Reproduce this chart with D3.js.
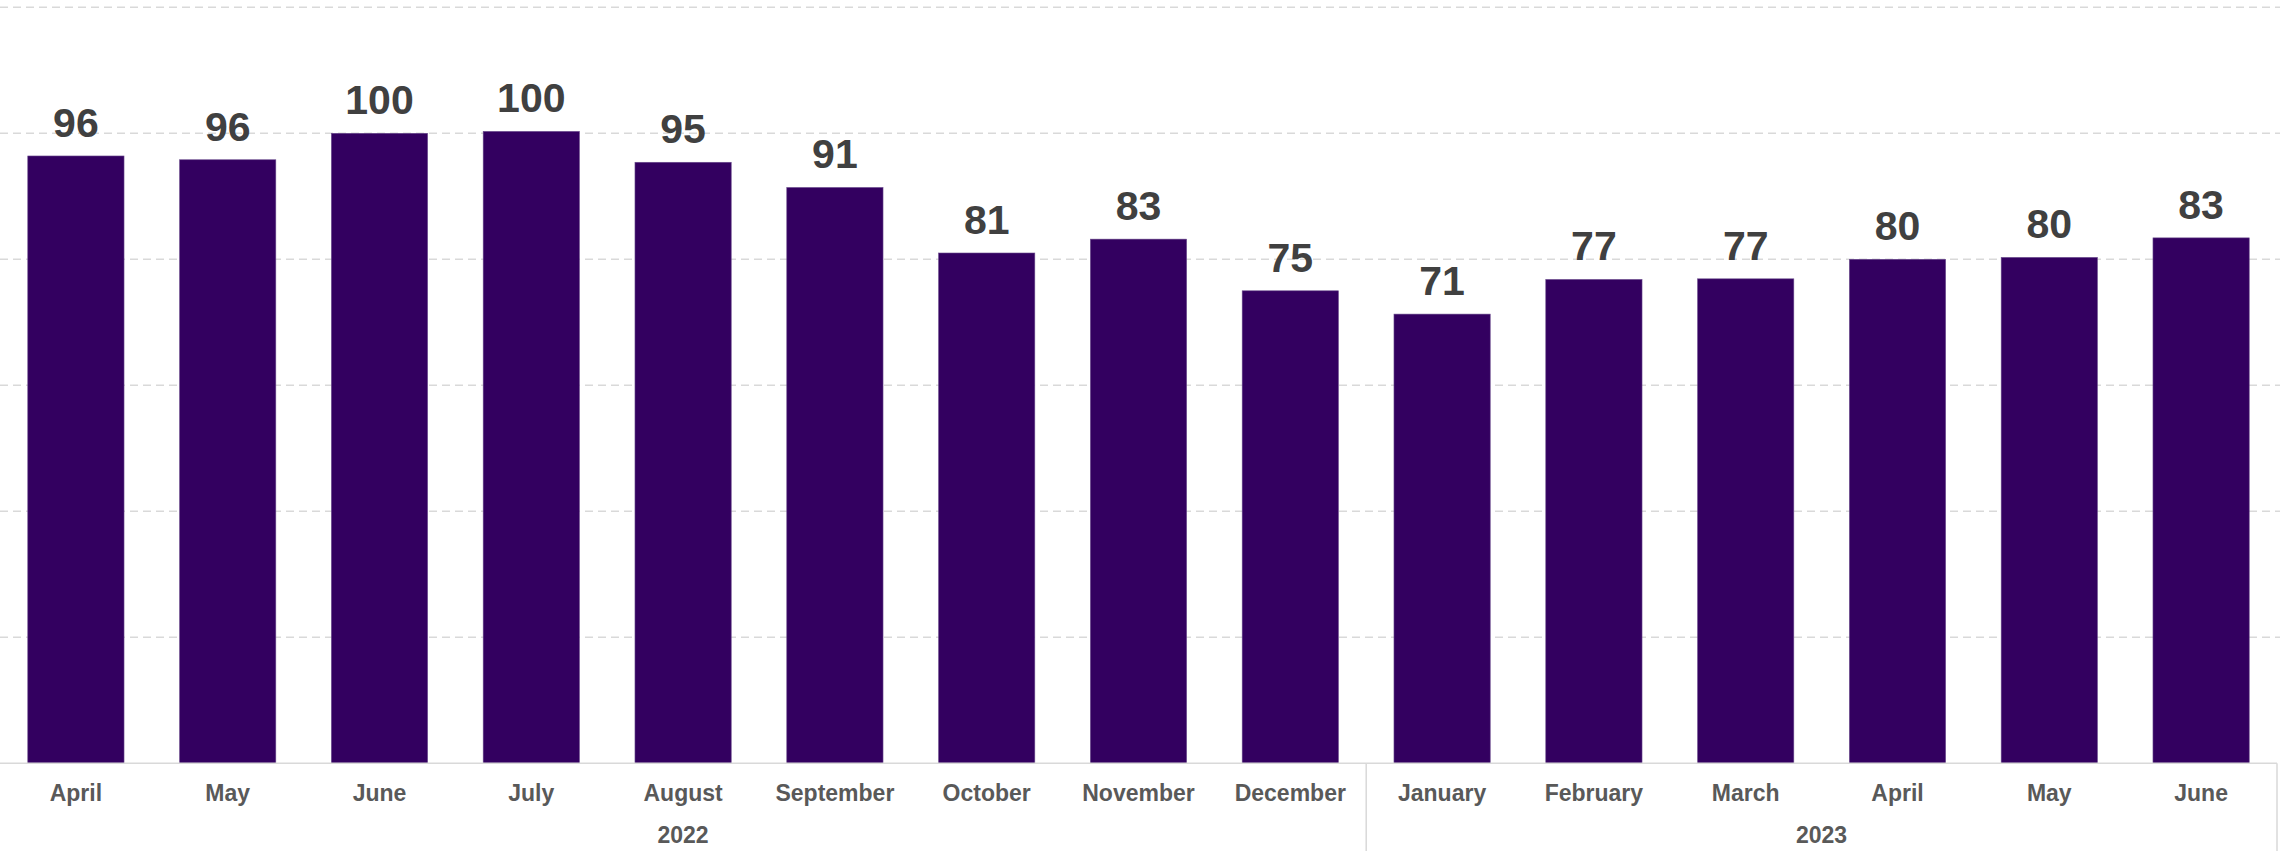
<!DOCTYPE html>
<html>
<head>
<meta charset="utf-8">
<script src="https://cdn.jsdelivr.net/npm/d3@7"></script>
<style>
	body { margin: 0; background: #fff; }
	svg { display: block; }
</style>
</head>
<body>
<script>
const w = 2280;
const h = 851;

// data
const months = ['April', 'May', 'June', 'July', 'August', 'September', 'October', 'November', 'December',
	'January', 'February', 'March', 'April', 'May', 'June'];
const years = ['2022', '2022', '2022', '2022', '2022', '2022', '2022', '2022', '2022',
	'2023', '2023', '2023', '2023', '2023', '2023'];
const values = [96.4, 95.8, 100.0, 100.3, 95.4, 91.4, 81.0, 83.2, 75.0, 71.3, 76.8, 76.9, 80.0, 80.3, 83.4];
const yTicks = [20, 40, 60, 80, 100, 120];

const keys = months.map((m, i) => i);

const x = d3.scaleBand()
	.domain(keys)
	.range([0, 2277])
	.paddingInner(0.366)
	.paddingOuter(0.183);

const y = d3.scaleLinear()
	.domain([0, 120])
	.range([763.3, 7.3]);

const gap = (x.step() - x.bandwidth()) / 2;

const svg = d3.select('body').append('svg')
	.attr('width', w)
	.attr('height', h);

// dashed gridlines
svg.append('g')
	.selectAll('line')
	.data(yTicks)
	.enter()
	.append('line')
	.attr('x1', 0)
	.attr('x2', w)
	.attr('y1', d => y(d))
	.attr('y2', d => y(d))
	.attr('stroke', '#d9d9d9')
	.attr('stroke-width', 1.5)
	.attr('stroke-dasharray', '8,5');

svg.append('g')
	.selectAll('rect')
	.data(values)
	.enter()
	.append('rect')
	.attr('x', (d, i) => x(i))
	.attr('y', d => y(d))
	.attr('width', x.bandwidth())
	.attr('height', d => y(0) - y(d))
	.attr('fill', '#330060')
	.attr('stroke', '#6a4a8c')
	.attr('stroke-width', 0.6);

svg.append('g')
	.selectAll('text')
	.data(values)
	.enter()
	.append('text')
	.attr('x', (d, i) => x(i) + x.bandwidth() / 2)
	.attr('y', d => y(d) - 19)
	.attr('text-anchor', 'middle')
	.style('font-family', '"Liberation Sans", Arial, sans-serif')
	.style('font-weight', 'bold')
	.style('font-size', '41px')
	.style('fill', '#404040')
	.text(d => d3.format('.0f')(d));

// axis: baseline plus group dividers
const axis = svg.append('g')
	.attr('stroke', '#d9d9d9')
	.attr('stroke-width', 1.5);

axis.append('line')
	.attr('x1', 0)
	.attr('x2', x.range()[1])
	.attr('y1', y(0))
	.attr('y2', y(0));

const groups = d3.groups(keys, i => years[i]);

axis.selectAll('line.div')
	.data(groups.map(g => x(g[1][g[1].length - 1]) + x.bandwidth() + gap))
	.enter()
	.append('line')
	.attr('class', 'div')
	.attr('x1', d => d)
	.attr('x2', d => d)
	.attr('y1', y(0))
	.attr('y2', h);

svg.append('g')
	.selectAll('text')
	.data(months)
	.enter()
	.append('text')
	.attr('x', (d, i) => x(i) + x.bandwidth() / 2)
	.attr('y', 801)
	.attr('text-anchor', 'middle')
	.style('font-family', '"Liberation Sans", Arial, sans-serif')
	.style('font-weight', 'bold')
	.style('font-size', '23px')
	.style('fill', '#595959')
	.text(d => d);

svg.append('g')
	.selectAll('text')
	.data(groups)
	.enter()
	.append('text')
	.attr('x', g => {
		const first = x(g[1][0]) - gap;
		const last = x(g[1][g[1].length - 1]) + x.bandwidth() + gap;
		return (first + last) / 2;
	})
	.attr('y', 843)
	.attr('text-anchor', 'middle')
	.style('font-family', '"Liberation Sans", Arial, sans-serif')
	.style('font-weight', 'bold')
	.style('font-size', '23px')
	.style('fill', '#595959')
	.text(g => g[0]);
</script>
</body>
</html>
